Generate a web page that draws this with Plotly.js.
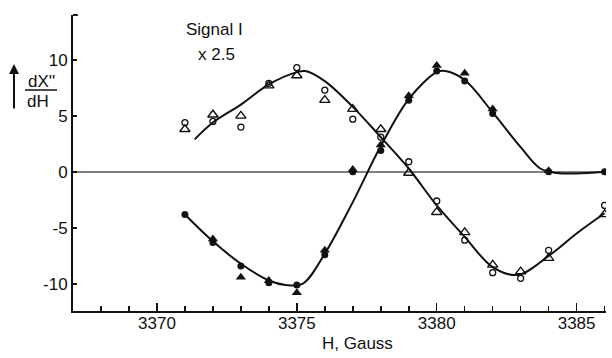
<!DOCTYPE html>
<html>
<head>
<meta charset="utf-8">
<script src="https://cdn.plot.ly/plotly-3.0.1.min.js"></script>
<style>html,body{margin:0;padding:0;background:#fff;}#chart{width:612px;height:358px;}</style>
</head>
<body>
<div id="chart"></div>
<script>
// Smooth curve drawn through the filled-marker data
const curveA_x = [3371, 3372, 3373, 3374, 3374.6, 3375.2, 3376, 3377, 3378, 3379, 3380, 3380.3, 3381, 3382, 3383, 3383.7, 3384.3, 3385, 3386];
const curveA_y = [-3.8, -6.2, -8.2, -9.7, -10.1, -10.0, -7.3, -2.7, 2.3, 6.5, 8.9, 9.0, 8.2, 5.3, 2.2, 0.3, -0.1, -0.15, 0.0];
// Smooth curve drawn through the open-marker data
const curveB_x = [3371.35, 3372, 3373, 3374, 3375, 3375.3, 3376, 3377, 3378, 3379, 3380, 3381, 3382, 3382.9, 3384, 3385, 3386];
const curveB_y = [2.9, 4.4, 6.0, 7.8, 8.9, 9.0, 8.1, 5.8, 3.1, 0.3, -3.0, -5.8, -8.5, -9.2, -7.5, -5.5, -3.7];

// Filled circles
const filledCircle_x = [3371, 3372, 3373, 3374, 3375, 3376, 3377, 3378, 3379, 3380, 3381, 3382, 3384, 3386];
const filledCircle_y = [-3.8, -6.3, -8.4, -9.9, -10.1, -7.4, 0.0, 1.9, 6.4, 9.0, 8.1, 5.2, 0.0, 0.0];
// Filled triangles
const filledTri_x = [3372, 3373, 3374, 3375, 3376, 3377, 3378, 3379, 3380, 3381, 3382, 3384];
const filledTri_y = [-6.0, -9.4, -9.7, -10.8, -7.0, 0.2, 2.4, 6.8, 9.5, 8.8, 5.6, 0.1];
// Open circles
const openCircle_x = [3371, 3372, 3373, 3374, 3375, 3376, 3377, 3378, 3379, 3380, 3381, 3382, 3383, 3384, 3386];
const openCircle_y = [4.4, 4.5, 4.0, 7.9, 9.3, 7.3, 4.7, 3.1, 0.9, -2.6, -6.1, -9.0, -9.5, -7.0, -3.0];
// Open triangles
const openTri_x = [3371, 3372, 3373, 3374, 3375, 3376, 3377, 3378, 3379, 3380, 3381, 3382, 3383, 3384, 3386];
const openTri_y = [3.8, 5.1, 5.0, 7.7, 8.6, 6.4, 5.6, 3.8, -0.1, -3.6, -5.4, -8.3, -8.9, -7.7, -3.8];

const yTickVals = [10, 5, 0, -5, -10];
const yTickText = ['10', '5', '0', '-5', '-10'];
const xTickVals = [3370, 3375, 3380, 3385];
const xTickText = ['3370', '3375', '3380', '3385'];
const xMinorVals = [3368, 3369, 3371, 3372, 3373, 3374, 3376, 3377, 3378, 3379, 3381, 3382, 3383, 3384, 3386];

const FONT = 'Liberation Sans, Arial, sans-serif';
const INK = '#111';

const traces = [
  {x: curveA_x, y: curveA_y, mode: 'lines', line: {color: INK, width: 2, shape: 'spline', smoothing: 1}, hoverinfo: 'skip'},
  {x: curveB_x, y: curveB_y, mode: 'lines', line: {color: INK, width: 2, shape: 'spline', smoothing: 1}, hoverinfo: 'skip'},
  {x: filledCircle_x, y: filledCircle_y, mode: 'markers', marker: {symbol: 'circle', size: 7, color: INK}},
  {x: filledTri_x, y: filledTri_y, mode: 'markers', marker: {symbol: 'triangle-up', size: 9, color: INK}},
  {x: openCircle_x, y: openCircle_y, mode: 'markers', marker: {symbol: 'circle-open', size: 6, color: INK, line: {width: 1.3}}},
  {x: openTri_x, y: openTri_y, mode: 'markers', marker: {symbol: 'triangle-up-open', size: 9, color: INK, line: {width: 1.4}}}
];

function px(x) { return (x - 73) / 533; }
function py(y) { return (311 - y) / 296; }
function txt(t, x, y) {
  return {text: t, xref: 'paper', yref: 'paper', x: px(x), y: py(y), xanchor: 'center', yanchor: 'middle',
          showarrow: false, font: {family: FONT, size: 17, color: INK}};
}

const layout = {
  width: 612, height: 358,
  margin: {l: 73, r: 6, t: 15, b: 47},
  paper_bgcolor: '#fff', plot_bgcolor: '#fff',
  showlegend: false,
  font: {family: FONT, size: 17, color: INK},
  xaxis: {
    range: [3367, 3386.05],
    tickvals: xTickVals, ticktext: xTickText,
    ticks: 'inside', ticklen: 8, tickwidth: 1.5, tickcolor: INK,
    ticklabelstandoff: -4,
    minor: {tickvals: xMinorVals, ticks: 'inside', ticklen: 5, tickwidth: 1.5, tickcolor: INK},
    showline: true, linecolor: INK, linewidth: 2,
    showgrid: false, zeroline: false,
    tickfont: {family: FONT, size: 17, color: INK}
  },
  yaxis: {
    range: [-12.42, 14.0],
    tickvals: yTickVals, ticktext: yTickText,
    ticks: 'inside', ticklen: 4, tickwidth: 1.5, tickcolor: INK,
    showline: true, linecolor: INK, linewidth: 2,
    showgrid: false,
    zeroline: true, zerolinecolor: '#808080', zerolinewidth: 1.5,
    tickfont: {family: FONT, size: 17, color: INK}
  },
  shapes: [
    {type: 'line', xref: 'paper', yref: 'paper', x0: 0, x1: 0.009, y0: 1, y1: 1, line: {color: INK, width: 2}},
    {type: 'line', xref: 'paper', yref: 'paper', x0: px(25), x1: px(57), y0: py(90), y1: py(90), line: {color: INK, width: 1.5}}
  ],
  annotations: [
    txt('Signal I', 214, 30),
    txt('x 2.5', 216, 55),
    txt('H, Gauss', 357, 343),
    txt("dX''", 41, 81),
    txt('dH', 38, 101),
    {text: '', xref: 'paper', yref: 'paper', x: px(14), y: py(64), ax: 0, ay: 46, showarrow: true, arrowhead: 2, arrowsize: 1, arrowwidth: 2, arrowcolor: INK}
  ]
};

Plotly.newPlot('chart', traces, layout, {staticPlot: true, displayModeBar: false});
</script>
</body>
</html>
